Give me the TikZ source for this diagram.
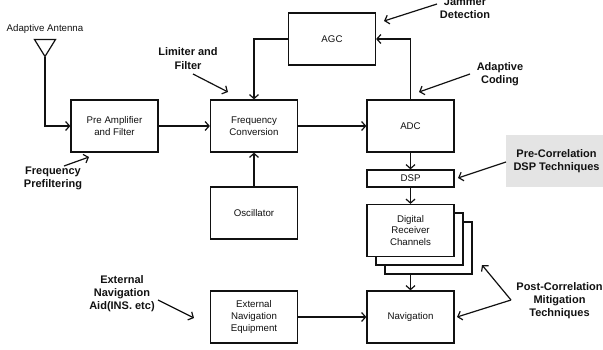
\documentclass[tikz,border=0pt]{standalone}
\usepackage{fontspec}
\setmainfont{Liberation Sans}
\usetikzlibrary{arrows.meta}
\definecolor{greybg}{HTML}{E4E4E4}
\definecolor{inkc}{HTML}{111111}
\tikzset{
  block/.style={draw=inkc,line width=1.25pt,fill=white,minimum width=87pt,minimum height=52pt,inner sep=0pt,align=center,font=\fontsize{9.7}{11.8}\selectfont,text=inkc},
  wire/.style={draw=inkc,line width=1.2pt,-{Straight Barb[length=4pt,width=9pt,line width=1.2pt]}},
  note/.style={align=center,inner sep=0pt,font=\bfseries\fontsize{11}{13.2}\selectfont,text=inkc},
  plain/.style={align=center,inner sep=0pt,font=\fontsize{9.7}{11.8}\selectfont,text=inkc}
}
\begin{document}
\begin{tikzpicture}[x=1pt,y=-1pt]
\useasboundingbox (0,0) rectangle (603,349);
\clip (0,0) rectangle (603,349);
\fill[greybg] (506,135) rectangle (603,187);
% back sheets
\node[block] (back2) at (428.5,248) {};
\node[block] (back1) at (419.5,239) {};
% blocks
\node[block] (pre) at (114.5,126) {Pre Amplifier\\and Filter};
\node[block] (freq) at (254,126) {Frequency\\Conversion};
\node[block] (agc) at (332,39) {AGC};
\node[block] (adc) at (410.5,126) {ADC};
\node[block,minimum height=17pt] (dsp) at (410.5,178.5) {DSP};
\node[block] (rx) at (410.5,230.5) {Digital\\Receiver\\Channels};
\node[block] (nav) at (410.5,317) {Navigation};
\node[block] (osc) at (254,213) {Oscillator};
\node[block] (ext) at (254,317) {External\\Navigation\\Equipment};
% antenna
\node[plain] (antlabel) at (45,29) {Adaptive Antenna};
\coordinate (ant) at (45,56.5);
\draw[draw=inkc,line width=1.2pt,line join=miter] (34.5,39.5) -- (55.5,39.5) -- (ant) -- cycle;
% connectors
\draw[wire] (ant) |- (pre.west);
\draw[wire] (pre) -- (freq);
\draw[wire] (freq) -- (adc);
\draw[wire] (agc.west) -| (freq.north);
\draw[wire] (adc.north) |- (agc.east);
\draw[wire] (osc) -- (freq);
\draw[wire] (adc) -- (dsp);
\draw[wire] (dsp) -- (rx);
\draw[wire] (back2.south -| nav.north) -- (nav.north);
\draw[wire] (ext) -- (nav);
% notes
\node[note] (nlim) at (188,58.5) {Limiter and\\Filter};
\coordinate (alim) at (228,92);
\coordinate (slim) at (193,74);
\draw[wire] (slim) -- (alim);
\node[note] (nfreq) at (53,178.5) {Frequency\\Prefiltering};
\coordinate (sfreq) at (64,166);
\coordinate (afreq) at (89,157);
\draw[wire] (sfreq) -- (afreq);
\node[note] (njam) at (465,8.5) {Jammer\\Detection};
\coordinate (sjam) at (437,4);
\coordinate (ajam) at (384,21);
\draw[wire] (sjam) -- (ajam);
\node[note] (nada) at (500,74.5) {Adaptive\\Coding};
\coordinate (sada) at (470,74);
\coordinate (aada) at (419,92);
\draw[wire] (sada) -- (aada);
\node[note] (npre) at (556.5,161) {Pre-Correlation\\DSP Techniques};
\coordinate (spre) at (506,162);
\coordinate (apre) at (458,178);
\draw[wire] (spre) -- (apre);
\node[note] (npost) at (559.5,300.5) {Post-Correlation\\Mitigation\\Techniques};
\coordinate (jpost) at (511,300);
\coordinate (apost1) at (482,265);
\coordinate (apost2) at (457,317);
\draw[wire] (jpost) -- (apost1);
\draw[wire] (jpost) -- (apost2);
\node[note] (next) at (122,293.5) {External\\Navigation\\Aid(INS. etc)};
\coordinate (sext) at (158,300);
\coordinate (aext) at (194,318);
\draw[wire] (sext) -- (aext);
\end{tikzpicture}
\end{document}
